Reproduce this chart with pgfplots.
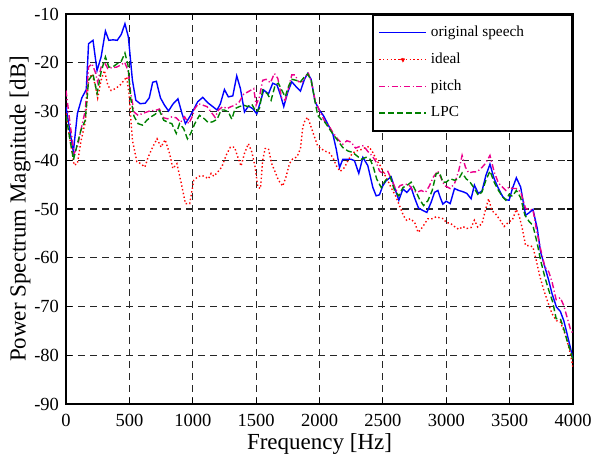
\documentclass[border=0pt]{standalone}
\usepackage{fontspec}
\setmainfont{Liberation Serif}
\usepackage{pgfplots}
\pgfplotsset{compat=1.18}

\definecolor{lpcgreen}{RGB}{0,128,0}
\pgfplotsset{
  ideal legend/.style={legend image code/.code={
    \draw[##1] (0pt,0pt) -- (23.5pt,0pt);
    \fill[red] (11.75pt,0pt) circle (0.9pt);}},
}

\begin{document}
\begin{tikzpicture}
\begin{axis}[
    scale only axis,
    width=253.5pt, height=195pt,
    xmin=0, xmax=4000, ymin=-90, ymax=-10,
    xtick={0,500,...,4000}, ytick={-90,-80,...,-10},
    grid=major,
    major grid style={black!85, line width=0.6pt, dash pattern=on 3.5pt off 2.5pt},
    axis line style={line width=1pt},
    tick align=inside, major tick length=3pt,
    tick style={black, line width=0.6pt},
    /pgf/number format/assume math mode=true,
    /pgf/number format/set thousands separator={},
    tick label style={font=\fontsize{9.25}{10}\selectfont},
    xticklabel style={yshift=-1.5pt},
    xlabel={Frequency [Hz]},
    ylabel={Power Spectrum Magnitude [dB]},
    label style={font=\fontsize{11.5}{13}\selectfont},
    xlabel style={at={(axis description cs:0.5,-0.1154)}, anchor=base},
    ylabel style={at={(axis description cs:-0.0907,0.5)}, anchor=center},
    legend cell align=left,
    legend style={at={(1,1)}, anchor=north east, line width=1pt,
        fill=white, font=\fontsize{7.65}{9}\selectfont, row sep=2.6pt,
        inner xsep=3pt, inner ysep=3.5pt},
    legend image code/.code={\draw[#1] (0pt,0pt) -- (23.5pt,0pt);},
]
\addlegendimage{draw=blue, line width=0.7pt}
\addlegendentry{original speech\hspace*{19pt}}
\addlegendimage{draw=red, line width=0.7pt, dash pattern=on 0.7pt off 1.2pt, ideal legend}
\addlegendentry{ideal}
\addlegendimage{draw=magenta, line width=0.7pt, dash pattern=on 3pt off 1.3pt on 0.6pt off 1.3pt}
\addlegendentry{pitch}
\addlegendimage{draw=lpcgreen, line width=0.7pt, dash pattern=on 3pt off 1.5pt}
\addlegendentry{LPC}

% original speech
\addplot[blue, line width=0.7pt, forget plot] coordinates {
(0,-29.1)(58,-38.3)(90,-30.4)(125,-27.2)(160,-25.5)(178,-16.1)(213,-15.4)(245,-21.6)
(277,-18.8)(311,-13.5)(338,-15.4)(372,-15.3)(404,-15.4)(436,-14.2)(465,-12.0)(492,-14.7)
(524,-23.6)(551,-27.7)(585,-28.4)(625,-28.3)(657,-27.2)(684,-24.0)(713,-23.8)(745,-27.2)
(777,-28.7)(809,-29.9)(843,-28.5)(883,-27.4)(915,-30.4)(942,-32.5)(976,-31.1)(1011,-29.4)
(1039,-28.0)(1079,-27.1)(1118,-28.2)(1158,-29.0)(1192,-29.7)(1218,-28.4)(1250,-25.5)(1281,-27.0)
(1316,-26.8)(1347,-22.7)(1376,-25.3)(1408,-30.1)(1439,-28.9)(1473,-29.4)(1505,-30.5)(1534,-28.0)
(1560,-25.6)(1597,-26.4)(1631,-24.2)(1665,-24.6)(1692,-26.6)(1718,-29.0)(1750,-26.0)(1781,-23.9)
(1815,-24.9)(1850,-25.8)(1881,-23.4)(1907,-22.2)(1934,-23.4)(1965,-28.0)(1999,-29.7)(2032,-30.9)
(2066,-32.6)(2105,-34.6)(2132,-37.7)(2158,-41.5)(2184,-39.8)(2224,-39.8)(2250,-39.8)(2276,-40.1)
(2310,-42.7)(2342,-39.4)(2381,-41.1)(2421,-45.6)(2447,-47.3)(2473,-47.1)(2500,-45.2)(2526,-44.2)
(2565,-43.4)(2592,-45.6)(2626,-48.2)(2658,-45.9)(2689,-46.6)(2723,-45.6)(2750,-47.7)(2781,-49.8)
(2815,-50.3)(2847,-50.7)(2881,-48.6)(2907,-46.6)(2934,-46.2)(2952,-47.6)(2973,-49.0)(3000,-48.4)
(3031,-48.9)(3065,-45.8)(3099,-46.2)(3136,-46.5)(3162,-46.8)(3196,-47.9)(3222,-45.1)(3253,-46.8)
(3282,-46.3)(3313,-43.1)(3345,-40.8)(3378,-43.8)(3412,-45.8)(3444,-47.4)(3470,-48.1)(3496,-48.2)
(3522,-45.8)(3553,-43.6)(3587,-45.5)(3626,-51.3)(3652,-50.8)(3684,-50.1)(3718,-54.0)(3744,-58.8)
(3778,-61.9)(3809,-64.7)(3835,-67.4)(3869,-70.1)(3900,-71.0)(3927,-72.9)(3953,-75.6)(3979,-78.4)
(4000,-80.8)
};

% ideal
\addplot[red, line width=0.7pt, dash pattern=on 0.7pt off 1.2pt, forget plot] coordinates {
(0,-30.4)(32,-35.9)(64,-41.0)(90,-40.7)(117,-36.2)(152,-32.2)(178,-23.6)(205,-22.3)
(231,-24.6)(250,-27.2)(277,-23.6)(303,-21.6)(330,-24.6)(356,-25.7)(391,-25.3)(426,-24.6)
(458,-23.6)(479,-22.9)(497,-26.3)(524,-35.9)(559,-40.3)(590,-40.7)(622,-41.4)(649,-39.3)
(684,-37.3)(718,-35.6)(750,-37.3)(782,-35.8)(817,-38.6)(843,-41.7)(875,-40.7)(910,-44.8)
(942,-48.9)(976,-48.9)(1008,-44.1)(1039,-43.4)(1071,-43.1)(1097,-43.4)(1124,-43.8)(1145,-42.7)
(1166,-43.3)(1197,-42.4)(1229,-41.4)(1263,-39.0)(1297,-37.3)(1329,-37.3)(1355,-39.3)(1381,-41.2)
(1408,-38.6)(1439,-36.6)(1466,-38.3)(1492,-41.4)(1513,-45.5)(1534,-45.8)(1552,-40.0)(1571,-37.6)
(1597,-37.6)(1623,-40.7)(1650,-42.4)(1676,-44.1)(1710,-45.3)(1736,-43.4)(1763,-40.7)(1789,-39.7)
(1823,-39.3)(1850,-37.6)(1868,-33.2)(1886,-31.8)(1907,-31.2)(1934,-33.2)(1960,-35.2)(1986,-37.1)
(2013,-37.6)(2039,-38.1)(2074,-38.4)(2105,-39.4)(2132,-41.1)(2163,-42.3)(2197,-41.5)(2224,-40.1)
(2258,-38.6)(2289,-38.1)(2321,-37.9)(2355,-37.5)(2389,-37.2)(2421,-38.4)(2447,-39.8)(2479,-41.1)
(2505,-42.5)(2539,-44.2)(2565,-45.6)(2600,-47.3)(2631,-49.3)(2663,-51.4)(2689,-52.4)(2715,-52.0)
(2750,-52.7)(2778,-54.8)(2802,-54.1)(2828,-53.1)(2855,-52.0)(2889,-52.0)(2920,-51.6)(2947,-51.8)
(2978,-52.0)(3000,-52.8)(3031,-52.9)(3065,-53.6)(3099,-54.2)(3131,-53.6)(3162,-54.0)(3196,-53.8)
(3222,-52.3)(3248,-53.7)(3282,-53.0)(3308,-50.3)(3334,-47.9)(3360,-50.3)(3392,-51.1)(3423,-52.2)
(3457,-53.6)(3491,-52.7)(3522,-52.2)(3553,-50.1)(3574,-51.3)(3600,-54.0)(3626,-57.5)(3658,-57.5)
(3684,-57.8)(3710,-60.5)(3736,-63.6)(3770,-66.7)(3804,-69.3)(3835,-71.5)(3869,-72.9)(3900,-73.2)
(3927,-74.9)(3953,-77.0)(3979,-79.7)(4000,-82.5)
};

% pitch
\addplot[magenta, line width=0.7pt, dash pattern=on 3pt off 1.3pt on 0.6pt off 1.3pt, forget plot] coordinates {
(0,-25.7)(32,-32.5)(64,-38.6)(90,-37.3)(117,-33.9)(152,-29.8)(178,-20.9)(205,-20.2)
(231,-21.9)(250,-24.0)(277,-20.9)(303,-19.9)(330,-21.2)(364,-21.0)(399,-20.9)(431,-20.5)
(463,-19.9)(489,-21.6)(511,-26.3)(537,-30.1)(569,-30.8)(604,-30.4)(638,-30.1)(670,-29.8)
(702,-29.8)(737,-29.5)(771,-31.3)(803,-31.5)(835,-31.1)(870,-31.3)(904,-32.2)(936,-31.1)
(968,-32.5)(995,-31.1)(1016,-29.4)(1045,-28.4)(1079,-28.7)(1113,-29.0)(1145,-30.1)(1176,-31.2)
(1203,-29.7)(1237,-29.0)(1271,-29.4)(1302,-29.0)(1334,-28.7)(1368,-28.0)(1402,-26.4)(1434,-26.0)
(1460,-25.6)(1481,-25.3)(1500,-28.7)(1526,-27.0)(1552,-23.6)(1579,-23.4)(1613,-24.1)(1644,-22.2)
(1671,-23.2)(1702,-27.3)(1729,-27.7)(1755,-25.3)(1781,-22.5)(1807,-22.5)(1834,-23.9)(1868,-23.9)
(1894,-22.7)(1913,-22.2)(1939,-24.2)(1965,-27.7)(2000,-29.8)(2039,-31.9)(2074,-32.9)(2105,-34.3)
(2145,-35.7)(2184,-36.7)(2216,-36.0)(2250,-36.3)(2284,-37.5)(2316,-37.2)(2347,-37.0)(2381,-38.2)
(2416,-39.1)(2447,-40.4)(2473,-42.2)(2505,-42.8)(2539,-42.3)(2573,-44.2)(2605,-46.2)(2636,-45.2)
(2671,-44.9)(2705,-45.0)(2736,-46.2)(2768,-46.6)(2802,-46.2)(2836,-46.6)(2868,-45.2)(2899,-43.4)
(2934,-42.2)(2960,-43.7)(2986,-45.2)(3031,-45.8)(3065,-44.8)(3099,-42.1)(3125,-39.0)(3151,-41.4)
(3177,-42.6)(3209,-42.4)(3240,-42.4)(3274,-41.7)(3308,-40.7)(3345,-39.0)(3378,-42.4)(3412,-44.7)
(3444,-45.5)(3470,-46.2)(3496,-45.5)(3522,-45.8)(3553,-45.8)(3587,-46.5)(3626,-49.9)(3658,-50.1)
(3684,-50.1)(3710,-54.0)(3744,-58.2)(3778,-61.9)(3809,-62.9)(3835,-65.0)(3867,-68.6)(3900,-68.2)
(3927,-69.8)(3953,-72.2)(3979,-74.6)(4000,-75.6)
};

% LPC
\addplot[lpcgreen, line width=0.7pt, dash pattern=on 3pt off 1.5pt, forget plot] coordinates {
(0,-30.8)(32,-35.9)(59,-39.9)(90,-36.6)(117,-33.9)(152,-31.8)(178,-23.6)(213,-22.3)
(245,-26.3)(277,-21.9)(311,-18.8)(338,-20.9)(372,-20.8)(404,-20.2)(436,-19.7)(465,-18.0)
(489,-20.5)(511,-27.4)(537,-31.0)(569,-32.5)(604,-32.8)(638,-31.8)(670,-31.1)(702,-30.6)
(737,-29.8)(771,-31.8)(803,-32.2)(835,-32.5)(870,-34.5)(896,-32.5)(928,-33.5)(958,-35.6)
(984,-34.5)(1016,-32.5)(1053,-30.8)(1087,-31.4)(1124,-32.3)(1158,-32.1)(1192,-31.6)(1224,-29.7)
(1250,-29.7)(1281,-30.1)(1308,-31.6)(1334,-29.4)(1368,-29.0)(1402,-28.7)(1434,-29.0)(1466,-28.5)
(1500,-30.1)(1526,-29.4)(1552,-25.6)(1587,-26.3)(1618,-27.7)(1650,-24.6)(1676,-24.2)(1702,-25.6)
(1729,-27.0)(1755,-24.9)(1781,-23.4)(1815,-23.6)(1850,-23.9)(1881,-22.9)(1907,-22.3)(1934,-23.6)
(1960,-27.3)(1986,-30.8)(2013,-31.6)(2032,-31.8)(2066,-33.1)(2105,-34.6)(2145,-36.0)(2184,-37.4)
(2224,-38.1)(2263,-38.4)(2295,-39.1)(2329,-39.8)(2368,-39.4)(2400,-39.8)(2426,-41.5)(2452,-43.9)
(2487,-45.6)(2521,-44.1)(2558,-43.4)(2592,-46.2)(2626,-47.3)(2658,-45.6)(2689,-45.2)(2723,-44.5)
(2757,-46.2)(2789,-48.0)(2821,-49.3)(2855,-48.3)(2889,-46.2)(2920,-42.8)(2947,-42.5)(2973,-44.5)
(3000,-44.5)(3031,-43.8)(3065,-44.1)(3099,-43.8)(3125,-42.6)(3157,-43.8)(3188,-44.5)(3222,-45.8)
(3253,-47.2)(3282,-46.5)(3313,-44.1)(3345,-42.2)(3378,-44.5)(3412,-46.2)(3444,-47.5)(3470,-48.2)
(3496,-47.0)(3522,-47.4)(3553,-46.2)(3587,-47.7)(3621,-51.3)(3652,-52.5)(3684,-53.4)(3718,-57.1)
(3744,-60.5)(3778,-64.0)(3809,-66.7)(3840,-69.1)(3867,-72.5)(3900,-72.5)(3927,-74.6)(3953,-77.0)
(3979,-79.1)(4000,-81.0)
};
\end{axis}
\pgfresetboundingbox
\path ([shift={(-33pt,-26pt)}]current axis.south west) rectangle ([shift={(9pt,7pt)}]current axis.north east);
\end{tikzpicture}
\end{document}
